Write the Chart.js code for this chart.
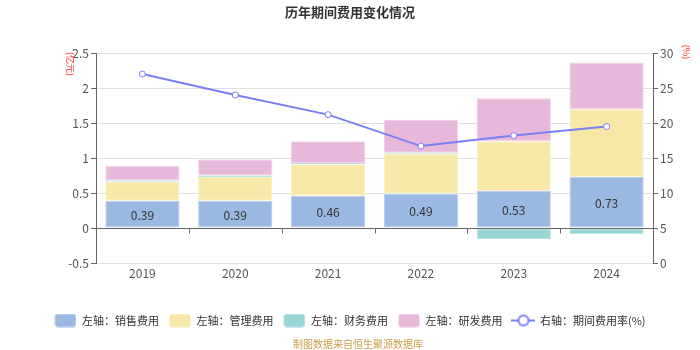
<!DOCTYPE html>
<html>
<head>
<meta charset="utf-8">
<script src="https://cdn.jsdelivr.net/npm/chart.js@4/dist/chart.umd.min.js"></script>
<style>
  html, body { margin: 0; padding: 0; background: #fff; }
  #wrap { width: 700px; height: 350px; position: relative; }
</style>
</head>
<body>
<div id="wrap"><canvas id="costChart"></canvas></div>
<script>
// chart data (亿元 on the left axis, % on the right axis)
const years = ['2019', '2020', '2021', '2022', '2023', '2024'];
const salesCost = [0.39, 0.39, 0.46, 0.49, 0.53, 0.73];
const adminCost = [0.27, 0.34, 0.45, 0.57, 0.71, 0.965];
const financeCost = [0.02, 0.02, 0.02, 0.015, -0.16, -0.09];
const rdCost = [0.21, 0.23, 0.31, 0.47, 0.615, 0.67];
const costRate = [27.0, 24.0, 21.2, 16.7, 18.2, 19.5];
const leftTicks = [-0.5, 2.5, 0.5];
const rightTicks = [0, 30, 5];

const FONT = "'Noto Sans CJK SC', 'Noto Sans', sans-serif";

function boxIcon(fill) {
    const c = document.createElement('canvas');
    c.width = 22; c.height = 14;
    const ctx = c.getContext('2d');
    ctx.fillStyle = fill;
    ctx.beginPath();
    ctx.roundRect(0.5, 0.5, 21, 13, 3);
    ctx.fill();
    return c;
}

function lineIcon(color) {
    const c = document.createElement('canvas');
    c.width = 24; c.height = 14;
    const ctx = c.getContext('2d');
    ctx.strokeStyle = color;
    ctx.lineWidth = 2;
    ctx.beginPath();
    ctx.moveTo(0, 7); ctx.lineTo(24, 7);
    ctx.stroke();
    ctx.fillStyle = '#fff';
    ctx.beginPath();
    ctx.arc(12, 7, 5, 0, Math.PI * 2);
    ctx.fill();
    ctx.stroke();
    return c;
}

// zero line, value labels, title, axis units and source note
const decorPlugin = {
    id: 'decor',
    afterDatasetsDraw(chart) {
        const ctx = chart.ctx;
        const x = chart.scales.x;
        const y = chart.scales.y;
        const y0 = Math.round(y.getPixelForValue(0)) + 0.5;
        ctx.save();
        ctx.strokeStyle = '#666';
        ctx.lineWidth = 1;
        ctx.beginPath();
        ctx.moveTo(chart.chartArea.left, y0);
        ctx.lineTo(chart.chartArea.right, y0);
        const step = (x.right - x.left) / years.length;
        for (let i = 1; i < years.length; i++) {
            const px = Math.round(x.left + step * i) + 0.5;
            ctx.moveTo(px, y0);
            ctx.lineTo(px, y0 + 5);
        }
        ctx.stroke();

        const meta = chart.getDatasetMeta(0);
        ctx.fillStyle = '#333';
        ctx.font = '12px ' + FONT;
        ctx.textAlign = 'center';
        ctx.textBaseline = 'middle';
        meta.data.forEach(function(bar, i) {
            ctx.fillText(salesCost[i].toFixed(2), bar.x, (bar.y + bar.base) / 2 + 1);
        });
        ctx.restore();
    },
    afterDraw(chart) {
        const ctx = chart.ctx;
        ctx.save();
        ctx.fillStyle = '#333';
        ctx.font = 'bold 13px ' + FONT;
        ctx.textAlign = 'center';
        ctx.textBaseline = 'middle';
        ctx.fillText('历年期间费用变化情况', 350, 12);

        ctx.fillStyle = '#c9a04a';
        ctx.font = '10px ' + FONT;
        ctx.fillText('制图数据来自恒生聚源数据库', 358, 344);

        ctx.fillStyle = '#ff3333';
        ctx.font = '9px ' + FONT;
        ctx.translate(70, 64);
        ctx.rotate(Math.PI / 2);
        ctx.fillText('(亿元)', 0, 0);
        ctx.restore();

        ctx.save();
        ctx.fillStyle = '#ff3333';
        ctx.font = '9px ' + FONT;
        ctx.textAlign = 'center';
        ctx.textBaseline = 'middle';
        ctx.translate(686, 52);
        ctx.rotate(Math.PI / 2);
        ctx.fillText('(%)', 0, 0);
        ctx.restore();
    }
};

const barSet = function(label, data, fill, border) {
    return {
        type: 'bar',
        label: label,
        data: data,
        backgroundColor: fill,
        borderColor: border,
        borderWidth: 1,
        borderSkipped: false,
        stack: 'cost',
        yAxisID: 'y',
        barPercentage: 0.8,
        categoryPercentage: 1.0,
        order: 2
    };
};

const tickText = function(value) {
    return String(Number(value));
};

new Chart(document.getElementById('costChart'), {
    data: {
        labels: years,
        datasets: [
            barSet('左轴：销售费用', salesCost, '#9bb8e2', '#b9cff0'),
            barSet('左轴：管理费用', adminCost, '#f8e8a8', '#fcf2c8'),
            barSet('左轴：财务费用', financeCost, '#98d5d5', '#b4e4e4'),
            barSet('左轴：研发费用', rdCost, '#e7b8d9', '#f2d0e8'),
            {
                type: 'line',
                label: '右轴：期间费用率(%)',
                data: costRate,
                yAxisID: 'y1',
                borderColor: '#7b7ff4',
                backgroundColor: '#fff',
                borderWidth: 2,
                pointRadius: 3,
                pointBorderWidth: 1,
                pointBackgroundColor: '#fff',
                pointBorderColor: '#7b7ff4',
                tension: 0,
                order: 1
            }
        ]
    },
    options: {
        responsive: true,
        maintainAspectRatio: false,
        animation: false,
        layout: {
            padding: { top: 53, left: 0, right: 0, bottom: 14 }
        },
        plugins: {
            title: { display: false },
            tooltip: { enabled: false },
            legend: {
                position: 'bottom',
                labels: {
                    usePointStyle: true,
                    pointStyleWidth: 22,
                    padding: 10,
                    color: '#333',
                    font: { family: FONT, size: 11 },
                    sort: function(a, b) { return a.datasetIndex - b.datasetIndex; },
                    generateLabels: function(chart) {
                        const items = Chart.defaults.plugins.legend.labels.generateLabels(chart);
                        items.forEach(function(item) {
                            const ds = chart.data.datasets[item.datasetIndex];
                            item.pointStyle = ds.type === 'line'
                                ? lineIcon(ds.borderColor)
                                : boxIcon(ds.backgroundColor);
                        });
                        return items;
                    }
                }
            }
        },
        scales: {
            x: {
                grid: { display: false, drawTicks: false },
                border: { display: false },
                ticks: { color: '#555', font: { family: FONT, size: 12 }, padding: 3 },
                afterFit: function(scale) { scale.height = 42; }
            },
            y: {
                position: 'left',
                min: leftTicks[0],
                max: leftTicks[1],
                ticks: {
                    stepSize: leftTicks[2],
                    callback: tickText,
                    color: '#555',
                    font: { family: FONT, size: 12 },
                    padding: 2
                },
                grid: { color: '#e0e0e0', tickColor: '#666', tickLength: 5 },
                border: { color: '#666' },
                afterFit: function(scale) { scale.width = 96; }
            },
            y1: {
                position: 'right',
                min: rightTicks[0],
                max: rightTicks[1],
                ticks: {
                    stepSize: rightTicks[2],
                    callback: tickText,
                    color: '#555',
                    font: { family: FONT, size: 12 },
                    padding: 2
                },
                grid: { drawOnChartArea: false, tickColor: '#666', tickLength: 5 },
                border: { color: '#666' },
                afterFit: function(scale) { scale.width = 47; }
            }
        }
    },
    plugins: [decorPlugin]
});
</script>
</body>
</html>
